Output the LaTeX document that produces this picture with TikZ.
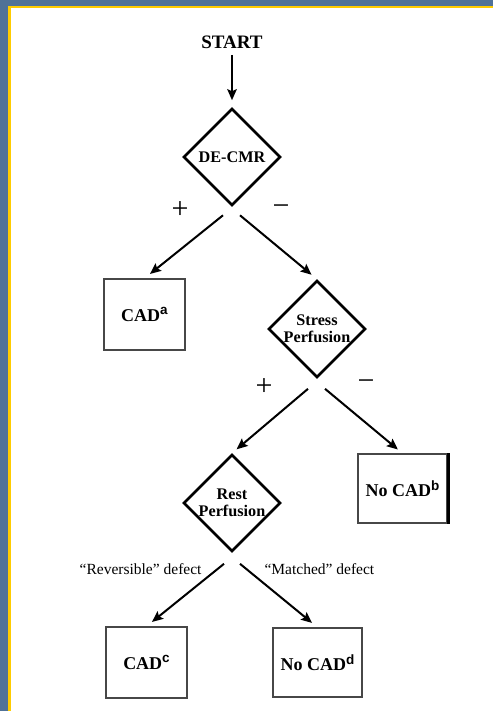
\documentclass[tikz,border=0pt]{standalone}
\usepackage{fontspec}
\setmainfont{Liberation Serif}
\newfontfamily\supfont{Liberation Sans}
\usetikzlibrary{shapes.geometric,arrows.meta,calc}
\definecolor{bgblue}{RGB}{80,114,152}
\definecolor{rimgold}{RGB}{255,204,0}
% small bold sans superscript used for the footnote marks
\newcommand{\supmark}[1]{\raisebox{6.5pt}{\fontsize{13.5}{13.5}\selectfont\supfont\bfseries #1}}
\begin{document}
\begin{tikzpicture}[x=1pt,y=-1pt,
  decision/.style={diamond, draw=black, line width=2.6pt, minimum width=97pt,
    minimum height=97pt, inner sep=0pt, align=center,
    font=\fontsize{16.2}{17}\selectfont\bfseries},
  outcome/.style={rectangle, draw=black!72, line width=1.3pt, inner sep=0pt,
    font=\fontsize{18}{20}\selectfont\bfseries},
  flow/.style={-{Stealth[length=11pt,width=9.5pt,inset=2pt]}, line width=2pt},
  sign/.style={font=\fontsize{30}{30}\selectfont},
  branch/.style={font=\fontsize{15.5}{17}\selectfont}]
\useasboundingbox (0,0) rectangle (493,711);
% frame: blue surround, gold rim, white sheet
\fill[bgblue] (0,0) rectangle (493,711);
\fill[rimgold] (8.3,5.7) rectangle (493,711);
\fill[white] (11,8.3) rectangle (493,711);

% nodes
\node[font=\fontsize{19}{20}\selectfont\bfseries] (start) at (232,42) {START};
\node[decision] (decmr) at (232,157) {DE-CMR};
\node[outcome, minimum width=81pt, minimum height=71pt] (cada) at (144.5,314.5) {CAD\supmark{a}};
\node[decision] (stress) at (317,329) {Stress\\Perfusion};
\node[decision] (rest) at (232,503) {Rest\\Perfusion};
\node[outcome, minimum width=89pt, minimum height=69pt] (nocadb) at (402.5,488.5) {No CAD\supmark{b}};
\node[outcome, minimum width=81pt, minimum height=71pt] (cadc) at (146.5,662.5) {CAD\supmark{c}};
\node[outcome, minimum width=89pt, minimum height=69pt] (nocadd) at (317.5,662.5) {No CAD\supmark{d}};
\draw[line width=3pt] ([xshift=0.5pt]nocadb.north east) -- ([xshift=0.5pt]nocadb.south east);

% branch starting points below each decision
\coordinate (d1l) at ($(decmr.south)+(-9,8.5)$);
\coordinate (d1r) at ($(decmr.south)+(8,8.5)$);
\coordinate (d2l) at ($(stress.south)+(-9,10)$);
\coordinate (d2r) at ($(stress.south)+(8,10)$);
\coordinate (d3l) at ($(rest.south)+(-8,11)$);
\coordinate (d3r) at ($(rest.south)+(8,11)$);

% connectors
\draw[flow, shorten <=3pt, shorten >=7pt] (start) -- (decmr.north);
\draw[flow, shorten >=7pt] (d1l) -- (cada.north);
\draw[flow, shorten >=7pt] (d1r) -- (stress.north);
\draw[flow, shorten >=6pt] (d2l) -- (rest.north);
\draw[flow, shorten >=6pt] (d2r) -- (nocadb.north);
\draw[flow, shorten >=7pt] (d3l) -- (cadc.north);
\draw[flow, shorten >=7pt] (d3r) -- (nocadd.north);

% branch labels
\node[sign] (p1) at (180,210) {+};
\node[sign] (m1) at (281,210) {−};
\node[sign] (p2) at (264,387) {+};
\node[sign] (m2) at (366,385) {−};
\node[branch, anchor=east] (rev) at (205,569) {“Reversible” defect};
\node[branch, anchor=west] (mat) at (261,569) {“Matched” defect};
\end{tikzpicture}
\end{document}
